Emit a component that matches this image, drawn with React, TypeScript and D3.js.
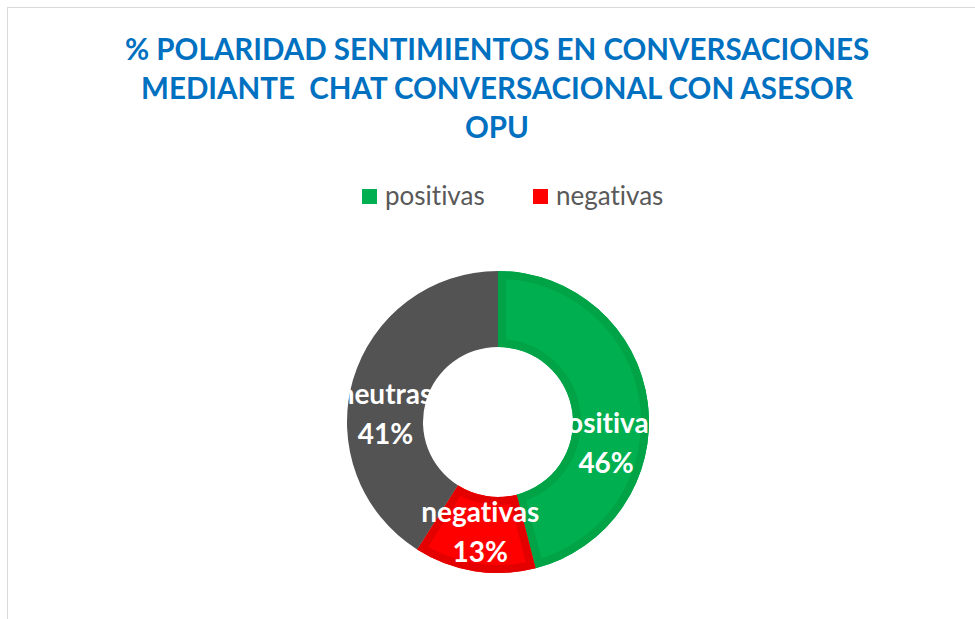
import React from "react";
import * as d3 from "d3";

const categories = ["positivas", "negativas", "neutras"];
const values = [46, 13, 41];
const percentLabels = ["46%", "13%", "41%"];
const legendItems = ["positivas", "negativas"];
const titleLines = [
  "% POLARIDAD SENTIMIENTOS EN CONVERSACIONES",
  "MEDIANTE  CHAT CONVERSACIONAL CON ASESOR",
  "OPU",
];

const fills: Record<string, string> = {
  positivas: "#00B050",
  negativas: "#FF0000",
  neutras: "#535353",
};
const borders: Record<string, string | null> = {
  positivas: "#00A346",
  negativas: "#E50000",
  neutras: null,
};
// label nudges relative to arc centroid
const labelNudge: Record<string, [number, number]> = {
  positivas: [-4, 33],
  negativas: [0, -4],
  neutras: [-4, 22],
};

export default function App() {
  const W = 975;
  const H = 619;
  const cx = 498;
  const cy = 422;
  const rOuter = 151;
  const rInner = 75;

  const data = categories.map((c, i) => ({ c, v: values[i], lab: percentLabels[i] }));
  const pie = d3
    .pie<any>()
    .value((d) => d.v)
    .sort(null);
  const arcs = pie(data);
  const arc = d3.arc<any>().innerRadius(rInner).outerRadius(rOuter);

  const font = "Lato, 'Open Sans', sans-serif";
  const noLig: React.CSSProperties = {
    fontVariantLigatures: "none",
    fontFeatureSettings: "'liga' 0, 'clig' 0",
    whiteSpace: "pre",
  };

  return (
    <svg
      width={W}
      height={H}
      style={{ position: "absolute", left: 0, top: 0, background: "#fff" }}
    >
      <rect x={7.5} y={7.5} width={1100} height={1000} fill="#fff" stroke="#D9D9D9" strokeWidth={1} />
      {titleLines.map((t, i) => (
        <text
          key={i}
          x={497}
          y={60 + i * 39}
          textAnchor="middle"
          fontFamily={font}
          fontWeight={700}
          fontSize={29.5}
          fill="#0070C0"
          style={noLig}
          xmlSpace="preserve"
        >
          {t}
        </text>
      ))}
      {legendItems.map((l, i) => {
        const x0 = i === 0 ? 362 : 533;
        return (
          <g key={l}>
            <rect x={x0} y={189} width={15} height={15} fill={fills[l]} />
            <text x={x0 + 23} y={205} fontFamily={font} fontSize={26} fill="#595959" style={noLig}>
              {l}
            </text>
          </g>
        );
      })}
      <defs>
        {arcs.map((a, i) => (
          <clipPath id={`clip${i}`} key={i}>
            <path d={arc(a) || ""} />
          </clipPath>
        ))}
      </defs>
      <g transform={`translate(${cx},${cy})`}>
        {arcs.map((a, i) => (
          <g key={i}>
            <path d={arc(a) || ""} fill={fills[a.data.c]} />
            {borders[a.data.c] && (
              <path
                d={arc(a) || ""}
                fill="none"
                stroke={borders[a.data.c] as string}
                strokeWidth={16}
                clipPath={`url(#clip${i})`}
              />
            )}
          </g>
        ))}
        {arcs.map((a, i) => {
          const [x, y] = arc.centroid(a);
          const [nx, ny] = labelNudge[a.data.c];
          return (
            <text
              key={i}
              x={x + nx}
              y={y + ny}
              textAnchor="middle"
              fontFamily={font}
              fontWeight={700}
              fontSize={28}
              fill="#fff"
              style={noLig}
            >
              <tspan x={x + nx} dy={-8}>
                {a.data.c}
              </tspan>
              <tspan x={x + nx} dy={40}>
                {a.data.lab}
              </tspan>
            </text>
          );
        })}
      </g>
    </svg>
  );
}
